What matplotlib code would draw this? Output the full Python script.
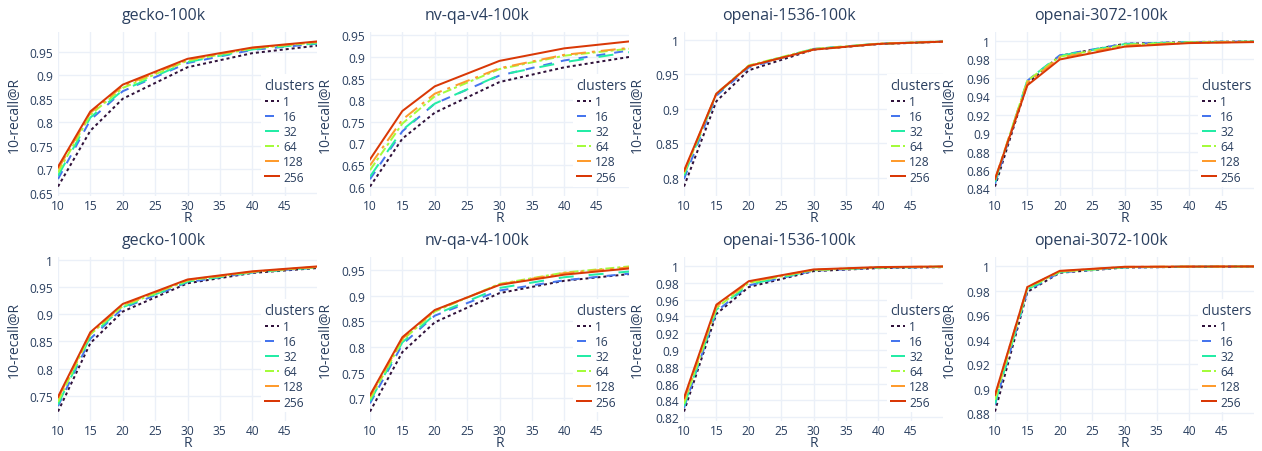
import matplotlib
matplotlib.use("Agg")
import matplotlib.pyplot as plt
from matplotlib.lines import Line2D
from matplotlib.ticker import MultipleLocator, FuncFormatter

plt.rcParams["font.family"] = ["Open Sans", "DejaVu Sans"]

W, H = 1262, 452
TXT = "#2a3f5f"
GRID = "#ebf0f8"

R = [10, 15, 20, 30, 40, 50]
clusters = [1, 16, 32, 64, 128, 256]
colors = ["#30123b", "#4675ed", "#24eca6", "#a4fc3b", "#fe9b2d", "#d93806"]
# plotly dash patterns, in units of line width (2px lines)
dashes = [(0, (1.5, 1.5)), (0, (4.5, 4.5)), (0, (7.5, 7.5)),
          (0, (4.5, 1.5, 1.5, 1.5)), (0, (7.5, 3, 1.5, 3)), "-"]

titles = ["gecko-100k", "nv-qa-v4-100k", "openai-1536-100k", "openai-3072-100k"]

# top row: recall values per cluster count (rows) at each R (columns)
gecko_top = [
    [0.663, 0.782, 0.850, 0.917, 0.947, 0.963],
    [0.679, 0.805, 0.866, 0.926, 0.954, 0.967],
    [0.686, 0.810, 0.868, 0.928, 0.955, 0.968],
    [0.693, 0.816, 0.873, 0.931, 0.957, 0.970],
    [0.700, 0.820, 0.877, 0.933, 0.958, 0.971],
    [0.705, 0.823, 0.880, 0.935, 0.959, 0.972],
]
nvqa_top = [
    [0.600, 0.711, 0.771, 0.842, 0.876, 0.900],
    [0.617, 0.728, 0.792, 0.857, 0.892, 0.915],
    [0.623, 0.731, 0.792, 0.858, 0.888, 0.911],
    [0.638, 0.746, 0.809, 0.872, 0.903, 0.919],
    [0.649, 0.755, 0.815, 0.874, 0.905, 0.921],
    [0.663, 0.775, 0.832, 0.891, 0.920, 0.936],
]
oai1536_top = [
    [0.787, 0.911, 0.956, 0.986, 0.9940, 0.9975],
    [0.798, 0.919, 0.960, 0.987, 0.9945, 0.9978],
    [0.803, 0.921, 0.962, 0.987, 0.9946, 0.9979],
    [0.806, 0.922, 0.963, 0.987, 0.9946, 0.9979],
    [0.808, 0.922, 0.962, 0.986, 0.9945, 0.9978],
    [0.810, 0.922, 0.962, 0.986, 0.9943, 0.9976],
]
oai3072_top = [
    [0.842, 0.954, 0.984, 0.9970, 0.9989, 0.9996],
    [0.845, 0.957, 0.9845, 0.9970, 0.9989, 0.9996],
    [0.847, 0.9575, 0.984, 0.9967, 0.9988, 0.9995],
    [0.849, 0.957, 0.983, 0.9960, 0.9986, 0.9994],
    [0.850, 0.955, 0.982, 0.9950, 0.9982, 0.9992],
    [0.850, 0.952, 0.980, 0.9939, 0.9978, 0.9989],
]

# bottom row
gecko_bot = [
    [0.721, 0.847, 0.905, 0.957, 0.976, 0.985],
    [0.731, 0.855, 0.911, 0.959, 0.977, 0.986],
    [0.734, 0.859, 0.913, 0.960, 0.977, 0.986],
    [0.739, 0.863, 0.915, 0.962, 0.978, 0.987],
    [0.745, 0.865, 0.917, 0.963, 0.978, 0.987],
    [0.748, 0.867, 0.919, 0.964, 0.979, 0.988],
]
nvqa_bot = [
    [0.674, 0.790, 0.848, 0.905, 0.929, 0.942],
    [0.690, 0.805, 0.861, 0.910, 0.930, 0.943],
    [0.694, 0.809, 0.863, 0.915, 0.936, 0.947],
    [0.698, 0.813, 0.869, 0.923, 0.945, 0.957],
    [0.703, 0.816, 0.871, 0.922, 0.944, 0.955],
    [0.706, 0.819, 0.872, 0.921, 0.941, 0.953],
]
oai1536_bot = [
    [0.8266, 0.943, 0.975, 0.9940, 0.9976, 0.9988],
    [0.831, 0.946, 0.977, 0.9945, 0.9980, 0.9990],
    [0.833, 0.948, 0.978, 0.9950, 0.9982, 0.9992],
    [0.836, 0.950, 0.980, 0.9953, 0.9984, 0.9993],
    [0.840, 0.952, 0.981, 0.9956, 0.9986, 0.9994],
    [0.843, 0.954, 0.982, 0.9960, 0.9988, 0.9996],
]
oai3072_bot = [
    [0.8814, 0.979, 0.9946, 0.9989, 0.9995, 0.9997],
    [0.887, 0.980, 0.9949, 0.9990, 0.9995, 0.9997],
    [0.888, 0.981, 0.9952, 0.9991, 0.9996, 0.9997],
    [0.891, 0.982, 0.9955, 0.9992, 0.9996, 0.9998],
    [0.894, 0.983, 0.9958, 0.9994, 0.9997, 0.9998],
    [0.895, 0.983, 0.9962, 0.9995, 0.9997, 0.9998],
]

panels = [gecko_top, nvqa_top, oai1536_top, oai3072_top,
          gecko_bot, nvqa_bot, oai1536_bot, oai3072_bot]
ystep = [0.05, 0.05, 0.05, 0.02, 0.05, 0.05, 0.02, 0.02]

# layout in pixels
lefts = [58, 370, 684, 995]
pw = 259
rows = [(33, 197), (258, 422)]
title_x = [164, 477, 789, 1101]
ylab_x = [22, 333, 645, 957]

fig = plt.figure(figsize=(W / 100, H / 100), dpi=100)

fmt = FuncFormatter(lambda v, p: f"{round(v, 4):g}")

for i, data in enumerate(panels):
    r, c = divmod(i, 4)
    top, bot = rows[r]
    ax = fig.add_axes([lefts[c] / W, 1 - bot / H, pw / W, (bot - top) / H])
    for k in range(len(clusters)):
        ax.plot(R, data[k], color=colors[k], linestyle=dashes[k], lw=1.44,
                label=str(clusters[k]))
    lo = min(min(s) for s in data)
    hi = max(max(s) for s in data)
    pad = (hi - lo) * 0.065
    ax.set_ylim(lo - pad, hi + pad)
    ax.set_xlim(10, 50)
    ax.set_xticks([10, 15, 20, 25, 30, 35, 40, 45])
    ax.yaxis.set_major_locator(MultipleLocator(ystep[i]))
    ax.yaxis.set_major_formatter(fmt)
    ax.grid(True, color=GRID, lw=1)
    ax.set_axisbelow(True)
    for s in ax.spines.values():
        s.set_visible(False)
    ax.tick_params(length=0, labelsize=8.64, labelcolor=TXT)
    ax.tick_params(axis="y", pad=3.6)
    ax.tick_params(axis="x", pad=2)

    ax.set_xlabel("R", fontsize=10, color=TXT)
    ax.xaxis.set_label_coords(0.5, -14 / (bot - top))
    ax.set_ylabel("10-recall@R", fontsize=10, color=TXT)
    ax.yaxis.set_label_coords((ylab_x[c] - lefts[c]) / pw, 0.5)

    fig.text(title_x[c] / W, 1 - (top - 17) / H, titles[c], fontsize=11.5,
             color=TXT, ha="center", va="center")

    handles = [Line2D([], [], color=colors[k], linestyle=dashes[k], lw=1.44)
               for k in range(len(clusters))]
    leg = ax.legend(handles, [str(x) for x in clusters], title="clusters",
                    loc="upper left",
                    bbox_to_anchor=((lefts[c] + 203) / W, 1 - (top + 42) / H),
                    bbox_transform=fig.transFigure,
                    fontsize=8.64, title_fontsize=10, frameon=True,
                    facecolor="white", edgecolor="none", framealpha=1,
                    handlelength=1.2, handletextpad=0.35, labelspacing=0.18,
                    borderpad=0.3, borderaxespad=0, alignment="left",
                    fancybox=False)
    for t in leg.get_texts():
        t.set_color(TXT)
    leg.get_title().set_color(TXT)

fig.savefig("out.png", dpi=100, facecolor="white")
